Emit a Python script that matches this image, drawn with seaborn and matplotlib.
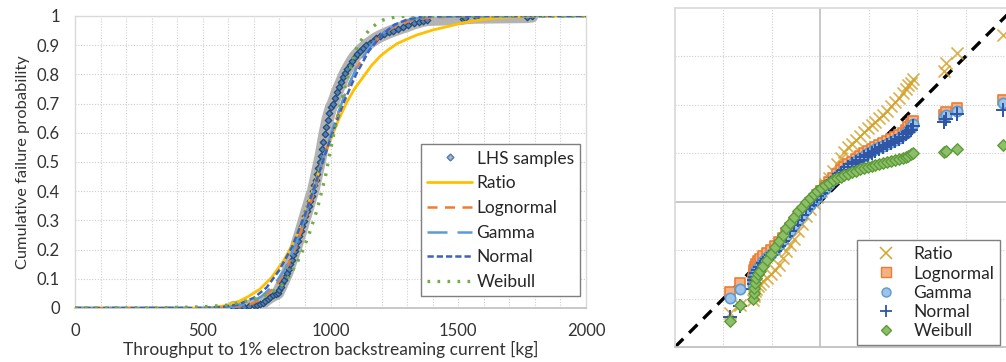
import numpy as np
import pandas as pd
import matplotlib
matplotlib.use("Agg")
import matplotlib.pyplot as plt
from matplotlib.lines import Line2D
import seaborn as sns

# ---------------- data: left panel (CDF) ----------------
lhs_x = [620, 640, 660, 680, 700, 712, 724, 735, 745, 755, 765, 775, 785, 795, 800, 806,
         812, 818, 825, 830, 836, 842, 848, 854, 860, 866, 872, 878, 884, 890, 896, 902,
         908, 914, 920, 926, 932, 937, 942, 947, 952, 957, 962, 967, 972, 977, 983, 989,
         996, 1003, 1010, 1018, 1026, 1034, 1042, 1050, 1058, 1066, 1075, 1085, 1095, 1105,
         1115, 1127, 1140, 1153, 1166, 1180, 1195, 1210, 1228, 1246, 1265, 1285, 1305,
         1325, 1345, 1362, 1378, 1518, 1526, 1569, 1769, 1789]
lhs_p = [0.003, 0.004, 0.005, 0.007, 0.009, 0.011, 0.013, 0.018, 0.025, 0.032, 0.038, 0.043,
         0.047, 0.052, 0.062, 0.073, 0.085, 0.097, 0.110, 0.120, 0.135, 0.150, 0.165, 0.180,
         0.195, 0.210, 0.228, 0.245, 0.262, 0.280, 0.298, 0.315, 0.333, 0.350, 0.368, 0.385,
         0.400, 0.420, 0.440, 0.460, 0.480, 0.500, 0.520, 0.545, 0.570, 0.595, 0.620, 0.645,
         0.668, 0.688, 0.700, 0.720, 0.740, 0.757, 0.773, 0.790, 0.805, 0.818, 0.832, 0.847,
         0.860, 0.870, 0.880, 0.890, 0.900, 0.908, 0.916, 0.924, 0.931, 0.937, 0.944, 0.950,
         0.956, 0.962, 0.968, 0.975, 0.980, 0.984, 0.987, 0.991, 0.993, 0.995, 0.997, 0.999]

ratio_x = [0, 500, 560, 600, 640, 680, 724, 770, 815, 850, 881, 907, 935, 965, 1000, 1029,
           1064, 1095, 1127, 1160, 1194, 1227, 1260, 1300, 1338, 1400, 1468, 1519, 1597,
           1650, 1700, 1800, 2000]
ratio_p = [0, 0.0, 0.004, 0.010, 0.022, 0.040, 0.065, 0.105, 0.160, 0.215, 0.270, 0.340,
           0.415, 0.495, 0.575, 0.640, 0.705, 0.752, 0.790, 0.830, 0.862, 0.885, 0.905,
           0.921, 0.935, 0.952, 0.966, 0.977, 0.988, 0.993, 0.996, 0.999, 1.0]

logn_x = [0, 550, 620, 680, 730, 780, 820, 860, 900, 940, 980, 1020, 1060, 1100, 1150,
          1200, 1250, 1300, 1350, 1400, 1500, 2000]
logn_p = [0, 0.0, 0.003, 0.010, 0.030, 0.070, 0.120, 0.200, 0.300, 0.410, 0.530, 0.640,
          0.740, 0.820, 0.890, 0.935, 0.963, 0.980, 0.990, 0.995, 0.999, 1.0]

gamma_x = [0, 540, 600, 680, 730, 780, 820, 860, 900, 940, 980, 1020, 1060, 1100, 1150,
           1200, 1250, 1300, 1350, 1400, 1500, 2000]
gamma_p = [0, 0.0, 0.003, 0.015, 0.040, 0.080, 0.130, 0.210, 0.310, 0.420, 0.535, 0.645,
           0.740, 0.820, 0.890, 0.938, 0.968, 0.985, 0.994, 0.998, 1.0, 1.0]

norm_x = [0, 500, 580, 640, 700, 750, 800, 850, 900, 950, 1000, 1050, 1100, 1150, 1200,
          1250, 1300, 1350, 1400, 2000]
norm_p = [0, 0.0, 0.004, 0.012, 0.035, 0.070, 0.130, 0.210, 0.320, 0.450, 0.580, 0.700,
          0.800, 0.880, 0.935, 0.970, 0.988, 0.996, 0.999, 1.0]

weib_x = [0, 300, 400, 500, 600, 700, 760, 802, 840, 881, 915, 947, 980, 1010, 1040, 1070,
          1104, 1130, 1155, 1180, 1205, 1250, 1300, 2000]
weib_p = [0, 0.0, 0.002, 0.004, 0.010, 0.030, 0.050, 0.070, 0.110, 0.175, 0.250, 0.335,
          0.450, 0.585, 0.700, 0.800, 0.895, 0.930, 0.955, 0.973, 0.986, 0.996, 1.0, 1.0]

x_ticks = [0, 500, 1000, 1500, 2000]
y_ticks = [0, 0.1, 0.2, 0.3, 0.4, 0.5, 0.6, 0.7, 0.8, 0.9, 1.0]
y_tick_labels = ["0", "0.1", "0.2", "0.3", "0.4", "0.5", "0.6", "0.7", "0.8", "0.9", "1"]

# ---------------- data: right panel (Q-Q) ----------------
qq_z = [-1.86, -1.66, -1.39, -1.37, -1.36, -1.34, -1.32, -1.28, -1.24, -1.18, -1.10, -1.02,
        -0.94, -0.86, -0.78, -0.70, -0.62, -0.54, -0.46, -0.38, -0.30, -0.22, -0.14, -0.06,
        0.02, 0.10, 0.18, 0.26, 0.34, 0.42, 0.50, 0.58, 0.66, 0.74, 0.82, 0.90, 0.98, 1.06,
        1.14, 1.22, 1.30, 1.38, 1.46, 1.54, 1.62, 1.70, 1.76, 1.82, 1.87, 1.92,
        2.56, 2.60, 2.83, 3.77]
qq_ratio = [-2.30, -2.13, -2.03, -1.95, -1.90, -1.85, -1.80, -1.74, -1.70, -1.63, -1.57, -1.50,
            -1.42, -1.30, -1.16, -1.02, -0.89, -0.76, -0.60, -0.45, -0.30, -0.15, -0.02, 0.10,
            0.22, 0.36, 0.50, 0.64, 0.78, 0.90, 1.02, 1.12, 1.20, 1.28, 1.36, 1.44, 1.52, 1.58,
            1.65, 1.72, 1.80, 1.88, 1.97, 2.06, 2.15, 2.24, 2.32, 2.40, 2.46, 2.53,
            2.69, 2.86, 3.08, 3.44]
qq_logn = [-1.86, -1.68, -1.60, -1.50, -1.42, -1.35, -1.28, -1.22, -1.18, -1.12, -1.06, -1.00,
           -0.92, -0.83, -0.74, -0.64, -0.54, -0.44, -0.33, -0.23, -0.13, -0.03, 0.06, 0.14,
           0.23, 0.32, 0.41, 0.50, 0.58, 0.65, 0.71, 0.77, 0.83, 0.89, 0.95, 1.00, 1.05, 1.09,
           1.13, 1.17, 1.21, 1.25, 1.29, 1.33, 1.37, 1.42, 1.48, 1.54, 1.60, 1.67,
           1.80, 1.86, 1.94, 2.11]
qq_gamma = [-1.99, -1.80, -1.72, -1.62, -1.55, -1.48, -1.42, -1.36, -1.30, -1.22, -1.15, -1.08,
            -1.00, -0.90, -0.80, -0.70, -0.60, -0.49, -0.38, -0.27, -0.17, -0.07, 0.02, 0.10,
            0.18, 0.27, 0.36, 0.45, 0.53, 0.60, 0.66, 0.72, 0.78, 0.84, 0.90, 0.95, 1.00, 1.04,
            1.08, 1.12, 1.16, 1.20, 1.24, 1.28, 1.32, 1.37, 1.42, 1.48, 1.53, 1.60,
            1.74, 1.80, 1.88, 2.04]
qq_norm = [-2.38, -2.15, -1.80, -1.70, -1.62, -1.55, -1.48, -1.41, -1.35, -1.26, -1.18, -1.10,
           -1.01, -0.91, -0.81, -0.70, -0.60, -0.49, -0.38, -0.27, -0.16, -0.06, 0.03, 0.11,
           0.19, 0.28, 0.36, 0.44, 0.52, 0.59, 0.65, 0.71, 0.77, 0.82, 0.87, 0.92, 0.97, 1.01,
           1.05, 1.09, 1.13, 1.17, 1.21, 1.25, 1.29, 1.34, 1.39, 1.44, 1.49, 1.56,
           1.64, 1.70, 1.82, 1.90]
qq_weib = [-2.46, -2.13, -2.00, -1.88, -1.78, -1.68, -1.58, -1.50, -1.44, -1.33, -1.20, -1.07,
           -0.94, -0.81, -0.68, -0.55, -0.43, -0.31, -0.20, -0.10, 0.00, 0.08, 0.15, 0.22,
           0.28, 0.34, 0.39, 0.44, 0.48, 0.52, 0.55, 0.58, 0.61, 0.64, 0.67, 0.70, 0.72, 0.74,
           0.76, 0.78, 0.80, 0.82, 0.84, 0.86, 0.88, 0.90, 0.92, 0.95, 0.98, 1.01,
           1.02, 1.05, 1.09, 1.18]
ref_line = [-3, 4]

# ---------------- style ----------------
sns.set_theme(style="white")
plt.rcParams["font.family"] = ["Lato", "DejaVu Sans"]

C_RATIO = "#FFC000"
C_RATIO_M = "#D4A32A"
C_LOGN = "#ED7D31"
C_GAMMA = "#5B9BD5"
C_NORM = "#3A62C0"
C_WEIB = "#70AD47"
GRID = "#CFCFCF"
FRAME = "#D9D9D9"
TXT = "#333333"

fig = plt.figure(figsize=(10.06, 3.62), dpi=100)
axL = fig.add_axes([75 / 1006, 54 / 362, 511 / 1006, 292 / 362])
axR = fig.add_axes([675 / 1006, 15 / 362, 339 / 1006, 339 / 362])

# ---------- left ----------
axL.set_xlim(0, 2000)
axL.set_ylim(0, 1)
for xv in range(100, 2000, 100):
    axL.axvline(xv, color=GRID, lw=0.8, ls=(0, (1, 1.5)), zorder=0)
for yv in y_ticks[1:-1]:
    axL.axhline(yv, color=GRID, lw=0.8, ls=(0, (1, 1.5)), zorder=0)

lhs_df = pd.DataFrame({"x": lhs_x, "p": lhs_p})
sns.lineplot(data=lhs_df, x="x", y="p", ax=axL, color="#A6A6A6", lw=9, alpha=0.85,
             solid_capstyle="round", zorder=2)
sns.scatterplot(data=lhs_df, x="x", y="p", ax=axL, marker="D", s=11, color="#5A80B2",
                edgecolor="#1F4C7A", linewidth=0.9, zorder=3)

def fit_line(xs, ps, color, ls, lw, z):
    d = pd.DataFrame({"x": xs, "p": ps})
    sns.lineplot(data=d, x="x", y="p", ax=axL, color=color, lw=lw, linestyle=ls, zorder=z)

fit_line(ratio_x, ratio_p, C_RATIO, "-", 2.0, 4)
fit_line(logn_x, logn_p, C_LOGN, (0, (4, 3)), 1.8, 5)
fit_line(gamma_x, gamma_p, C_GAMMA, (0, (8, 4)), 1.8, 5)
fit_line(norm_x, norm_p, C_NORM, (0, (2.5, 1.2)), 1.8, 6)
fit_line(weib_x, weib_p, C_WEIB, (0, (0.8, 2.2)), 2.4, 6)

axL.set_xticks(x_ticks)
axL.set_yticks(y_ticks)
axL.set_yticklabels(y_tick_labels)
axL.tick_params(axis="both", length=0, labelsize=12, colors=TXT)
axL.tick_params(axis="y", pad=11)
axL.tick_params(axis="x", pad=11)
axL.set_xlabel("Throughput to 1% electron backstreaming current [kg]", fontsize=12.5,
               color=TXT, labelpad=1)
axL.set_ylabel("Cumulative failure probability", fontsize=11.8, color=TXT, labelpad=5)
for s in ["top", "right", "left"]:
    axL.spines[s].set_color(FRAME)
    axL.spines[s].set_linewidth(1.0)
axL.spines["bottom"].set_color("#BFBFBF")
axL.spines["bottom"].set_linewidth(1.2)

hL = [
    Line2D([], [], marker="D", ls="none", markersize=3.5, markerfacecolor="#9FB6D4",
           markeredgecolor="#5A7BA6"),
    Line2D([], [], color=C_RATIO, lw=2.0),
    Line2D([], [], color=C_LOGN, lw=1.8, ls=(0, (4, 3))),
    Line2D([], [], color=C_GAMMA, lw=1.8, ls=(0, (8, 4))),
    Line2D([], [], color=C_NORM, lw=1.8, ls=(0, (2.5, 1.2))),
    Line2D([], [], color=C_WEIB, lw=2.4, ls=(0, (0.8, 2.2))),
]
legL = axL.legend(hL, ["LHS samples", "Ratio", "Lognormal", "Gamma", "Normal", "Weibull"],
                  loc="lower left", bbox_to_anchor=(0.677, 0.041), fontsize=12.5,
                  frameon=True, fancybox=False, framealpha=1, edgecolor="#7F7F7F",
                  handlelength=2.6, handletextpad=0.25, labelspacing=0.5,
                  borderpad=0.35, borderaxespad=0)
legL.get_frame().set_linewidth(1.0)

# ---------- right ----------
axR.set_xlim(-3, 4)
axR.set_ylim(-3, 4)
for v in [-2, -1, 1, 2, 3]:
    axR.axvline(v, color=GRID, lw=0.8, ls=(0, (1, 1.5)), zorder=0)
    axR.axhline(v, color=GRID, lw=0.8, ls=(0, (1, 1.5)), zorder=0)
axR.axvline(0, color="#BFBFBF", lw=1.2, zorder=0)
axR.axhline(0, color="#BFBFBF", lw=1.2, zorder=0)

ref_df = pd.DataFrame({"x": ref_line, "y": ref_line})
sns.lineplot(data=ref_df, x="x", y="y", ax=axR, color="black", lw=2.4,
             linestyle=(0, (3.5, 2.5)), zorder=2)

sns.scatterplot(x=qq_z, y=qq_ratio, ax=axR, marker="x", s=75, color=C_RATIO_M,
                linewidth=1.2, alpha=0.85, zorder=3)
sns.scatterplot(x=qq_z, y=qq_logn, ax=axR, marker="s", s=60, color="#F4B183",
                edgecolor=C_LOGN, linewidth=1.2, zorder=4)
sns.scatterplot(x=qq_z, y=qq_gamma, ax=axR, marker="o", s=55, color="#9DC3E6",
                edgecolor=C_GAMMA, linewidth=1.2, zorder=5)
sns.scatterplot(x=qq_z, y=qq_norm, ax=axR, marker="+", s=95, color="#2F55A4",
                linewidth=1.4, zorder=6)
sns.scatterplot(x=qq_z, y=qq_weib, ax=axR, marker="D", s=34, color="#8CC068",
                edgecolor="#5E9A3A", linewidth=1.0, zorder=7)

axR.set_xticks([])
axR.set_yticks([])
axR.set_xlabel("")
axR.set_ylabel("")
for s in ["top", "right", "left"]:
    axR.spines[s].set_color(FRAME)
axR.spines["bottom"].set_color("#BFBFBF")

hR = [
    Line2D([], [], marker="x", ls="none", markersize=8, color=C_RATIO_M, markeredgewidth=1.1),
    Line2D([], [], marker="s", ls="none", markersize=6.5, markerfacecolor="#F4B183",
           markeredgecolor=C_LOGN),
    Line2D([], [], marker="o", ls="none", markersize=6.5, markerfacecolor="#9DC3E6",
           markeredgecolor=C_GAMMA),
    Line2D([], [], marker="+", ls="none", markersize=9, color="#2F55A4", markeredgewidth=1.3),
    Line2D([], [], marker="D", ls="none", markersize=5, markerfacecolor="#8CC068",
           markeredgecolor="#5E9A3A"),
]
legR = axR.legend(hR, ["Ratio", "Lognormal", "Gamma", "Normal", "Weibull"],
                  loc="lower left", bbox_to_anchor=(0.537, 0.006), fontsize=12.5,
                  frameon=True, fancybox=False, framealpha=1, edgecolor="#7F7F7F",
                  handlelength=2.6, handletextpad=0.3, labelspacing=0.18,
                  borderpad=0.35, borderaxespad=0)
legR.get_frame().set_linewidth(1.0)

fig.savefig("out.png", dpi=100)
